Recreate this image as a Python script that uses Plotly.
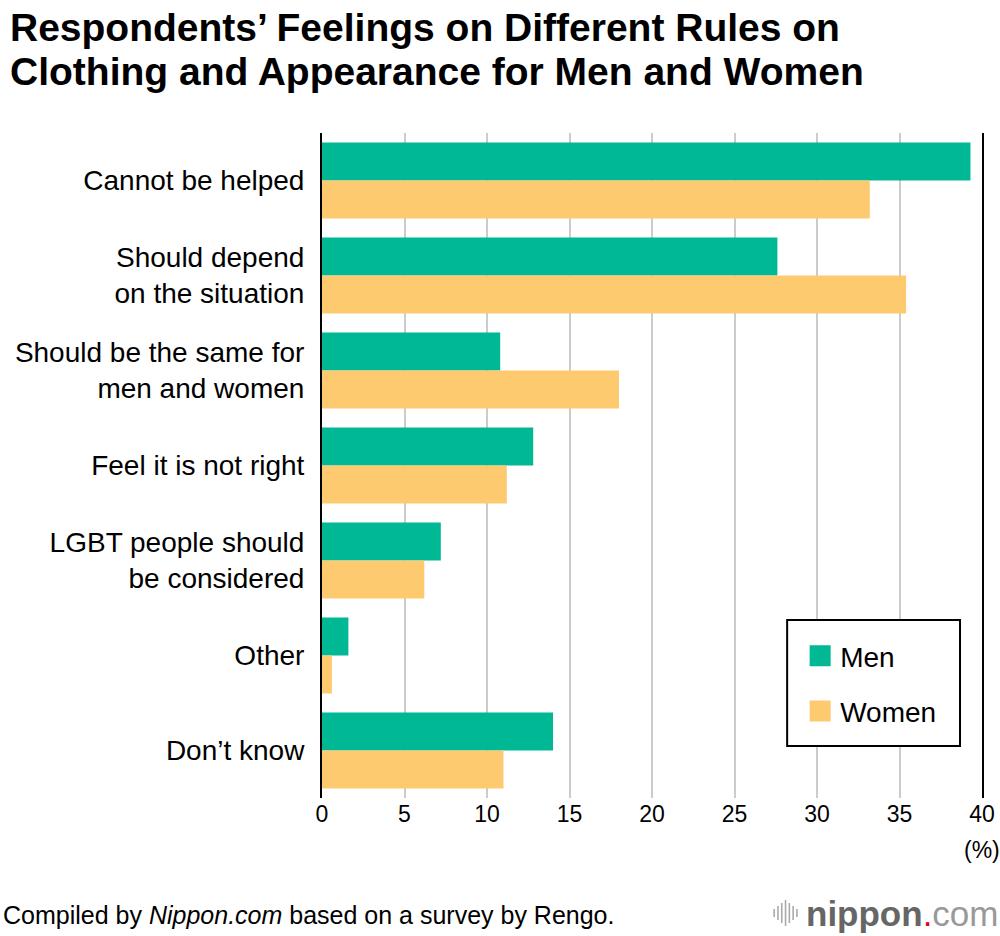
import plotly.graph_objects as go

categories = [
    "Cannot be helped",
    "Should depend<br>on the situation",
    "Should be the same for<br>men and women",
    "Feel it is not right",
    "LGBT people should<br>be considered",
    "Other",
    "Don’t know",
]
men = [39.3, 27.6, 10.8, 12.8, 7.2, 1.6, 14.0]
women = [33.2, 35.4, 18.0, 11.2, 6.2, 0.6, 11.0]
x_ticks = [0, 5, 10, 15, 20, 25, 30, 35, 40]
title_lines = ["Respondents’ Feelings on Different Rules on",
               "Clothing and Appearance for Men and Women"]

GREEN = "#00B894"
YELLOW = "#FDCA6F"
FONT = "Liberation Sans, Arial, Helvetica, sans-serif"

L, R, T, B = 321.5, 18, 133, 138
W, H = 1000, 936
PW, PH = W - L - R, H - T - B


def px_x(px):
    return (px - L) / PW


def px_y(py):
    return (H - B - py) / PH


fig = go.Figure()
fig.add_trace(go.Bar(name="Men", y=categories, x=men, orientation="h",
                     marker=dict(color=GREEN, line=dict(width=0)), showlegend=False))
fig.add_trace(go.Bar(name="Women", y=categories, x=women, orientation="h",
                     marker=dict(color=YELLOW, line=dict(width=0)), showlegend=False))
# legend-only entries (larger square swatches)
fig.add_trace(go.Scatter(name="Men", x=[None], y=[None], mode="markers",
                         marker=dict(symbol="square", size=22, color=GREEN,
                                     line=dict(color=GREEN, width=5)),
                         legendgroup="m", hoverinfo="skip"))
fig.add_trace(go.Scatter(name="Women", x=[None], y=[None], mode="markers",
                         marker=dict(symbol="square", size=22, color=YELLOW,
                                     line=dict(color=YELLOW, width=5)),
                         legendgroup="w", hoverinfo="skip"))

fig.update_layout(
    width=W, height=H,
    margin=dict(l=L, r=R, t=T, b=B, autoexpand=False),
    paper_bgcolor="white", plot_bgcolor="white",
    barmode="group", bargap=0.2, bargroupgap=0,
    font=dict(family=FONT, color="black"),
    showlegend=True,
    legend=dict(
        x=px_x(800), y=px_y(631), xanchor="left", yanchor="top",
        borderwidth=0, bgcolor="rgba(0,0,0,0)",
        font=dict(size=28, family=FONT), traceorder="grouped",
        tracegroupgap=16, itemwidth=30,
    ),
    xaxis=dict(
        range=[0, 40], tickvals=x_ticks, ticktext=[str(v) for v in x_ticks],
        showgrid=True, gridcolor="#CCCCCC", gridwidth=2,
        zeroline=False, showline=False, ticks="", automargin=False,
        tickfont=dict(size=23, family=FONT), ticklabelstandoff=0,
        fixedrange=True,
    ),
    yaxis=dict(
        autorange="reversed", showgrid=False, zeroline=False,
        showline=True, linecolor="black", linewidth=2, mirror=True,
        ticks="", tickfont=dict(size=28, family=FONT), ticklabelstandoff=10,
        automargin=False, fixedrange=True,
    ),
)

# legend frame
fig.add_shape(type="rect", xref="paper", yref="paper", layer="above",
              x0=px_x(787), x1=px_x(960), y0=px_y(746), y1=px_y(620),
              fillcolor="white", line=dict(color="black", width=2))

for line, yc in zip(title_lines, [27, 72]):
    fig.add_annotation(text="<b>" + line + "</b>", xref="paper", x=px_x(7),
                       yref="paper", y=px_y(yc), xanchor="left", yanchor="middle",
                       showarrow=False, font=dict(size=39, family=FONT, color="black"))

fig.add_annotation(text="(%)", xref="x", x=40, yref="paper", y=px_y(850),
                   xanchor="center", yanchor="middle", showarrow=False,
                   font=dict(size=23, family=FONT))

fig.add_annotation(text="Compiled by <i>Nippon.com</i> based on a survey by Rengo.",
                   xref="paper", x=px_x(0), yref="paper", y=px_y(915),
                   xanchor="left", yanchor="middle", showarrow=False,
                   font=dict(size=25, family=FONT))

fig.add_annotation(text="<b>nippon</b><span style='color:#E60012'>.</span><span style='color:#999999'>com</span>",
                   xref="paper", x=px_x(1000), yref="paper", y=px_y(913),
                   xanchor="right", yanchor="middle", showarrow=False,
                   font=dict(size=35, family=FONT, color="#666666"))

# logo bar icon
bar_h = [8, 14, 20, 26, 20, 14, 8]
for i, h in enumerate(bar_h):
    px = 774 + i * 3.8
    fig.add_shape(type="line", xref="paper", yref="paper",
                  x0=px_x(px), x1=px_x(px),
                  y0=px_y(913 - h / 2), y1=px_y(913 + h / 2),
                  line=dict(color="#AAAAAA", width=1.6))

fig.write_html("out.html", config={"displayModeBar": False},
               post_script="document.body.style.margin='0';document.body.style.overflow='hidden';")
